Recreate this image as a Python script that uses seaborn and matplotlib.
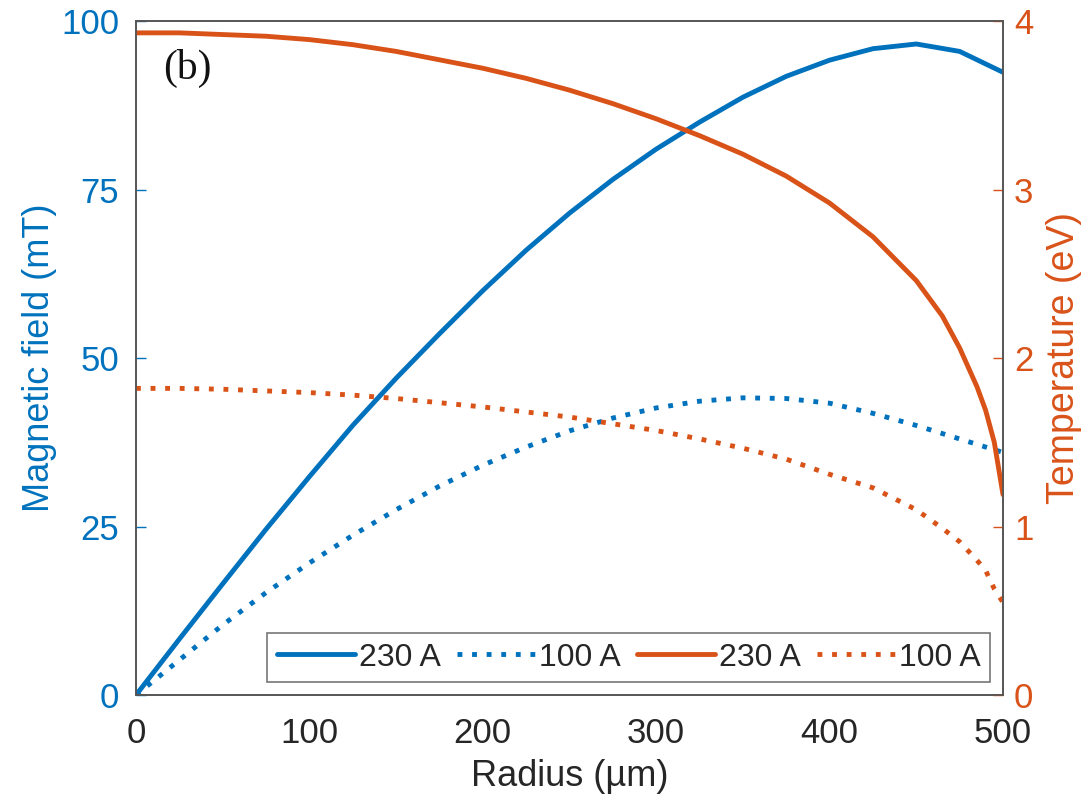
import numpy as np
import pandas as pd
import matplotlib
matplotlib.use("Agg")
import matplotlib.pyplot as plt
import seaborn as sns

# ---- data ----
r_main = [0, 25, 50, 75, 100, 125, 150, 175, 200, 225, 250, 275, 300, 325,
          350, 375, 400, 425, 450, 475, 500]
b_230 = [0, 8.3, 16.5, 24.6, 32.4, 40, 47, 53.6, 60, 66, 71.5, 76.5, 81, 85,
         88.7, 91.8, 94.2, 95.9, 96.6, 95.5, 92.4]
b_100 = [0, 5.2, 10.4, 15.2, 19.6, 23.7, 27.5, 31, 34.1, 36.8, 39.2, 41.1, 42.6,
         43.6, 44.1, 44, 43.3, 41.8, 40.0, 38.0, 36.0]

r_temp = [0, 25, 50, 75, 100, 125, 150, 175, 200, 225, 250, 275, 300, 325,
          350, 375, 400, 425, 450, 465, 475, 485, 490, 495, 500]
t_230 = [3.93, 3.93, 3.92, 3.91, 3.89, 3.86, 3.82, 3.77, 3.72, 3.66, 3.59,
         3.51, 3.42, 3.32, 3.21, 3.08, 2.92, 2.72, 2.46, 2.25, 2.06, 1.83,
         1.69, 1.50, 1.19]
t_100 = [1.82, 1.82, 1.815, 1.805, 1.795, 1.78, 1.76, 1.735, 1.71, 1.68, 1.65,
         1.61, 1.57, 1.52, 1.465, 1.40, 1.31, 1.23, 1.10, 0.99, 0.91, 0.80,
         0.74, 0.63, 0.55]

x_ticks = [0, 100, 200, 300, 400, 500]
left_ticks = [0, 25, 50, 75, 100]
right_ticks = [0, 1, 2, 3, 4]
legend_labels = ["230 A", "100 A", "230 A", "100 A"]

BLUE = "#0072BD"
ORANGE = "#D95319"

sns.set_theme(style="white")
plt.rcParams["font.family"] = ["Liberation Sans", "DejaVu Sans"]

fig = plt.figure(figsize=(10.87, 7.98), dpi=100)
ax = fig.add_axes([0.1251, 0.129, 0.7976, 0.8446])
ax2 = ax.twinx()

dot = (0, (1, 2))
lw = 3.5
sns.lineplot(x=r_main, y=b_230, ax=ax, color=BLUE, lw=lw, label=legend_labels[0], legend=False)
sns.lineplot(x=r_main, y=b_100, ax=ax, color=BLUE, lw=lw, linestyle=dot, label=legend_labels[1], legend=False)
sns.lineplot(x=r_temp, y=t_230, ax=ax2, color=ORANGE, lw=lw, label=legend_labels[2], legend=False)
sns.lineplot(x=r_temp, y=t_100, ax=ax2, color=ORANGE, lw=lw, linestyle=dot, label=legend_labels[3], legend=False)

ax.set_xlim(0, 500)
ax.set_ylim(0, 100)
ax2.set_ylim(0, 4)
ax.set_xticks(x_ticks)
ax.set_yticks(left_ticks)
ax2.set_yticks(right_ticks)

fs = 25
ax.tick_params(axis="x", direction="in", length=7, width=1, colors="#555555",
               labelcolor="#262626", labelsize=fs, pad=16, top=False)
ax.tick_params(axis="y", direction="in", length=7, width=1, colors=BLUE,
               labelcolor=BLUE, labelsize=fs, pad=12)
ax2.tick_params(axis="y", direction="in", length=7, width=1, colors=ORANGE,
                labelcolor=ORANGE, labelsize=fs, pad=8)

for a in (ax, ax2):
    for s in a.spines.values():
        s.set_color("#555555")
        s.set_linewidth(1.2)

ax.set_xlabel("Radius (µm)", fontsize=26, color="#262626", labelpad=6)
ax.set_ylabel("Magnetic field (mT)", fontsize=26, color=BLUE, labelpad=3)
ax2.set_ylabel("Temperature (eV)", fontsize=27, color=ORANGE, labelpad=9)

ax.text(0.031, 0.929, "(b)", transform=ax.transAxes, fontsize=30,
        family=["Liberation Serif", "DejaVu Serif"], color="#111111", va="center")

h1, l1 = ax.get_legend_handles_labels()
h2, l2 = ax2.get_legend_handles_labels()
leg = ax2.legend(h1 + h2, l1 + l2, loc="lower right", ncol=4, fontsize=23,
                 frameon=True, fancybox=False, edgecolor="#555555",
                 handlelength=2.45, handletextpad=0.12, columnspacing=0.5,
                 borderpad=0.3, borderaxespad=0.0,
                 bbox_to_anchor=(0.985, 0.019))
leg.get_frame().set_linewidth(1.2)

fig.savefig("out.png", dpi=100, facecolor="white")
